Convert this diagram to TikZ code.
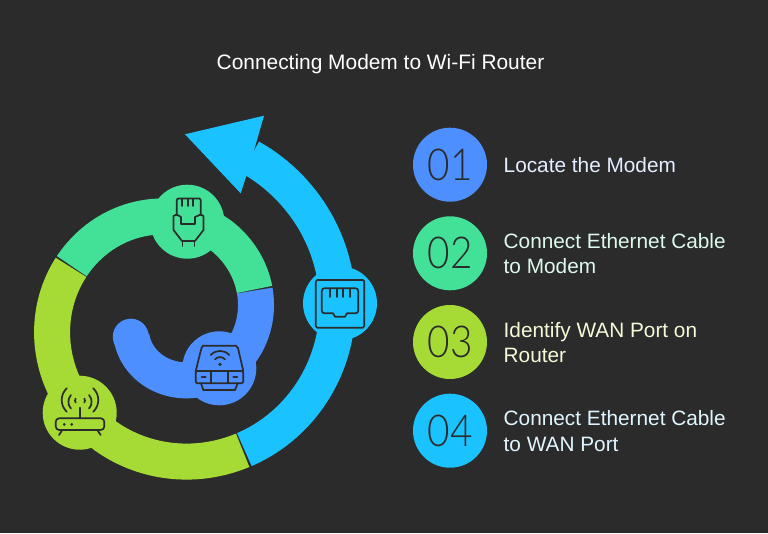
\documentclass[tikz,border=0pt]{standalone}
\usepackage{fontspec}
\setmainfont{Liberation Sans}
\newfontfamily\numfont[FakeStretch=0.88]{Lato Light}
\definecolor{bgc}{HTML}{2B2B2B}
\definecolor{blu}{HTML}{4D8FFF}
\definecolor{grn}{HTML}{43E097}
\definecolor{lim}{HTML}{A6DB35}
\definecolor{cya}{HTML}{1AC3FF}
\definecolor{tblu}{HTML}{E3EEFF}
\definecolor{tgrn}{HTML}{DCF9EC}
\definecolor{tlim}{HTML}{F2FAD6}
\definecolor{tcya}{HTML}{E0F6FF}
\tikzset{
  band/.style={line width=36pt,line cap=butt,line join=round},
  hub/.style={circle,minimum size=74pt,inner sep=0pt,fill=#1},
  numdisc/.style={circle,minimum size=74pt,inner sep=0pt,fill=#1,text=bgc,font=\numfont\fontsize{44}{44}\selectfont},
  lab/.style={anchor=west,align=left,inner sep=0pt,text=#1,font=\fontsize{20.8}{25.6}\selectfont},
  ico/.style={draw=bgc,line width=1.7pt,line cap=round,line join=round},
}
\newcommand{\spiral}[3]{\draw[band,draw=#1] plot[smooth,samples=70,domain=#2:#3,variable=\t]
  ({173.5+(81.5+20.5*\t/90-(\t>60)*2.2*max(0,cos(\t-150)))*cos(\t)},{318-(81.5+20.5*\t/90-(\t>60)*2.2*max(0,cos(\t-150)))*sin(\t)});}
\begin{document}
\begin{tikzpicture}[x=1pt,y=-1pt]
\fill[bgc] (0,0) rectangle (768,533);
\useasboundingbox (0,0) rectangle (768,533);
\node[text=white,font=\fontsize{20.9}{24}\selectfont] (title) at (380.5,64.5) {Connecting Modem to Wi-Fi Router};
% spiral bands
\spiral{blu}{-156}{18.7}
\fill[blu] (130.8,336.7) circle (18pt);
\spiral{grn}{19.4}{153}
\spiral{lim}{153.7}{297.6}
\spiral{cya}{298.3}{424.5}
\fill[cya] (257.3,139) -- (264,115.7) -- (185,134.3) -- (240.7,193.3) -- (246.7,175) -- cycle;
% hubs
\node[hub=grn] (hubtwo) at (187.3,221.7) {};
\node[hub=blu] (hubone) at (219.3,368.3) {};
\node[hub=lim] (hubthree) at (79.7,412.7) {};
\node[hub=cya] (hubfour) at (340,303.3) {};
% plug icon
\draw[ico] (176.7,215) -- (176.7,200) -- (178,198.5) -- (199.5,198.5) -- (200.7,200) -- (200.7,215);
\draw[ico] (182,199) -- (182,206) (187.7,199) -- (187.7,206) (193.3,199) -- (193.3,206);
\draw[ico] (176.7,214.5) -- (173.5,216) -- (173.5,230) -- (182,241) -- (195,241) -- (203.5,230) -- (203.5,216) -- (200.7,214.5);
\draw[ico] (176.7,214.5) -- (181,217) -- (181,224) -- (195,224) -- (195,217) -- (200.7,214.5);
\draw[ico] (182.5,241) -- (182.5,246) (194.5,241) -- (194.5,246);
% wifi box icon
\draw[ico] (195.7,371) -- (201.5,348) -- (203,345.7) -- (236,345.7) -- (238,348) -- (243.3,371);
\draw[ico,rounded corners=1.5pt] (195.7,371) rectangle (243.3,383.3);
\draw[ico] (211,371) -- (211,383.3) (227.7,371) -- (227.7,383.3);
\draw[ico] (201.7,377) -- (205.7,377) (233.3,377) -- (237.3,377);
\draw[ico] (201,383.3) -- (203.3,390) -- (235,390) -- (237.7,383.3);
\draw[ico] (210.7,355) .. controls (216,349.5) and (224,349.5) .. (229.3,355);
\draw[ico] (215,359.3) .. controls (218,356.3) and (222,356.3) .. (225,359.3);
\fill[bgc] (220,364.3) circle (1.8pt);
% router icon
\draw[ico,rounded corners=3.5pt] (55.7,418.3) rectangle (104.3,430);
\fill[bgc] (64.3,424.3) circle (1.5pt) (71.7,424.3) circle (1.5pt);
\draw[ico] (80,418.3) -- (80,407.7);
\draw[ico] (62.3,430) -- (59,435) (97.3,430) -- (100.7,435);
\draw[ico] (66.7,388.3) .. controls (60,395) and (60,405) .. (66.7,411.7);
\draw[ico] (93.3,388.3) .. controls (100,395) and (100,405) .. (93.3,411.7);
\draw[ico] (71,395) .. controls (67.5,399) and (67.5,405) .. (71,408.5);
\draw[ico] (89,395) .. controls (92.5,399) and (92.5,405) .. (89,408.5);
\draw[ico] (75.7,398.5) .. controls (74.8,399.8) and (74.8,401.2) .. (75.7,402.5);
\draw[ico] (84.3,398.5) .. controls (85.2,399.8) and (85.2,401.2) .. (84.3,402.5);
% port icon
\draw[ico,rounded corners=1.5pt] (315.7,280) rectangle (364.3,327.7);
\draw[ico,rounded corners=2.5pt] (333,313.3) -- (321.8,313.3) -- (321.8,288.3) -- (358.2,288.3) -- (358.2,313.3) -- (347,313.3);
\draw[ico] (333,313.3) -- (335,316.7) -- (345,316.7) -- (347,313.3);
\draw[ico] (330,288.5) -- (330,297) (336.7,288.5) -- (336.7,297) (343.3,288.5) -- (343.3,297) (350,288.5) -- (350,297);
% list
\node[numdisc=blu] (one) at (450,164.7) {01};
\node[numdisc=grn] (two) at (450,253.3) {02};
\node[numdisc=lim] (three) at (450,342) {03};
\node[numdisc=cya] (four) at (450,430.7) {04};
\node[lab=tblu] (tone) at (503.5,165) {Locate the Modem};
\node[lab=tgrn] (ttwo) at (503.5,253.5) {Connect Ethernet Cable\\to Modem};
\node[lab=tlim] (tthree) at (503.5,342.5) {Identify WAN Port on\\Router};
\node[lab=tcya] (tfour) at (503.5,431) {Connect Ethernet Cable\\to WAN Port};
\end{tikzpicture}
\end{document}
